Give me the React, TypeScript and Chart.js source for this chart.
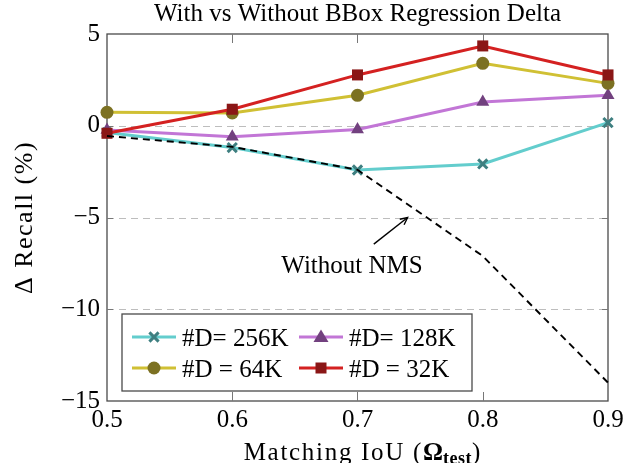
import React, { useEffect, useRef } from 'react';
import { Chart, registerables } from 'chart.js';

Chart.register(...registerables);

const iou = [0.5, 0.6, 0.7, 0.8, 0.9];
const d256 = [-0.37, -1.19, -2.41, -2.08, 0.17];
const d128 = [-0.23, -0.6, -0.2, 1.29, 1.66];
const d64 = [0.73, 0.7, 1.66, 3.4, 2.31];
const d32 = [-0.41, 0.9, 2.77, 4.35, 2.77];
const withoutNms = [-0.56, -1.15, -2.4, -7.1, -14.0];
const yGridValues = [0, -5, -10];
const xInnerTicks = [0.6, 0.7, 0.8];

const legendLabels = ['#D= 256K', '#D= 128K', '#D = 64K', '#D = 32K'];
const titleText = 'With vs Without BBox Regression Delta';
const yTitle = 'Δ Recall (%)';
const annotationText = 'Without NMS';

const SERIF = '"Liberation Serif", "Times New Roman", serif';
const FS = 25;

const C256 = { line: '#63cdcd', mark: '#3e7f80' };
const C128 = { line: '#c276d6', mark: '#72417f' };
const C64 = { line: '#d0c034', mark: '#7c7122' };
const C32 = { line: '#d42121', mark: '#8a1616' };

const pts = (ys: number[]) => iou.map((x, i) => ({ x, y: ys[i] }));

function drawMarker(ctx: CanvasRenderingContext2D, style: string, x: number, y: number, color: string) {
  ctx.save();
  ctx.fillStyle = color;
  ctx.strokeStyle = color;
  if (style === 'cross') {
    ctx.lineWidth = 3;
    const s = 4.6;
    ctx.beginPath();
    ctx.moveTo(x - s, y - s); ctx.lineTo(x + s, y + s);
    ctx.moveTo(x + s, y - s); ctx.lineTo(x - s, y + s);
    ctx.stroke();
  } else if (style === 'circle') {
    ctx.beginPath();
    ctx.arc(x, y, 6.5, 0, Math.PI * 2);
    ctx.fill();
  } else if (style === 'triangle') {
    ctx.beginPath();
    ctx.moveTo(x, y - 7.5);
    ctx.lineTo(x + 7.5, y + 5);
    ctx.lineTo(x - 7.5, y + 5);
    ctx.closePath();
    ctx.fill();
  } else {
    ctx.fillRect(x - 5.5, y - 5.5, 11, 11);
  }
  ctx.restore();
}

const decorPlugin = {
  id: 'decor',
  beforeDatasetsDraw(chart: any) {
    const { ctx, chartArea: a, scales } = chart;
    const y = scales.y;
    const x = scales.x;
    ctx.save();
    ctx.strokeStyle = '#bdbdbd';
    ctx.lineWidth = 1.2;
    ctx.setLineDash([7, 5]);
    yGridValues.forEach((v) => {
      const py = Math.round(y.getPixelForValue(v)) + 0.5;
      ctx.beginPath();
      ctx.moveTo(a.left, py);
      ctx.lineTo(a.right, py);
      ctx.stroke();
    });
    ctx.setLineDash([]);
    ctx.strokeStyle = '#4a4a4a';
    ctx.lineWidth = 1.3;
    ctx.strokeRect(a.left, a.top, a.right - a.left, a.bottom - a.top);
    ctx.strokeStyle = '#777';
    ctx.lineWidth = 1;
    xInnerTicks.forEach((v) => {
      const px = Math.round(x.getPixelForValue(v)) + 0.5;
      ctx.beginPath();
      ctx.moveTo(px, a.bottom); ctx.lineTo(px, a.bottom - 9);
      ctx.moveTo(px, a.top); ctx.lineTo(px, a.top + 9);
      ctx.stroke();
    });
    yGridValues.forEach((v) => {
      const py = Math.round(y.getPixelForValue(v)) + 0.5;
      ctx.beginPath();
      ctx.moveTo(a.left, py); ctx.lineTo(a.left + 6, py);
      ctx.moveTo(a.right, py); ctx.lineTo(a.right - 6, py);
      ctx.stroke();
    });
    ctx.restore();
  },
  afterDraw(chart: any) {
    const { ctx, chartArea: a, scales } = chart;
    const x = scales.x;
    const y = scales.y;
    ctx.save();
    ctx.fillStyle = '#000';
    // title
    ctx.font = `${FS}px ${SERIF}`;
    ctx.textAlign = 'center';
    ctx.textBaseline = 'alphabetic';
    ctx.fillText(titleText, (a.left + a.right) / 2, 21);

    // y title
    ctx.save();
    ctx.translate(32, (a.top + a.bottom) / 2);
    ctx.rotate(-Math.PI / 2);
    ctx.font = `26px ${SERIF}`;
    (ctx as any).letterSpacing = '1.5px';
    ctx.textAlign = 'center';
    ctx.fillText(yTitle, 0, 0);
    ctx.restore();

    // x title with bold Omega subscript
    const parts = [
      { t: 'Matching IoU (', f: `${FS}px ${SERIF}`, dy: 0, ls: '1.7px' },
      { t: 'Ω', f: `bold ${FS}px ${SERIF}`, dy: 0, ls: '0px' },
      { t: 'test', f: `bold 18px ${SERIF}`, dy: 4, ls: '0.5px' },
      { t: ')', f: `${FS}px ${SERIF}`, dy: 0, ls: '0px' },
    ];
    let total = 0;
    parts.forEach((p) => {
      ctx.font = p.f;
      (ctx as any).letterSpacing = p.ls;
      total += ctx.measureText(p.t).width;
    });
    let cx = 362 - total / 2;
    ctx.textAlign = 'left';
    parts.forEach((p) => {
      ctx.font = p.f;
      (ctx as any).letterSpacing = p.ls;
      ctx.fillText(p.t, cx, 460 + p.dy);
      cx += ctx.measureText(p.t).width;
    });
    (ctx as any).letterSpacing = '0px';

    // annotation
    const tipX = x.getPixelForValue(0.74);
    const tipY = y.getPixelForValue(-5.0);
    const tailX = x.getPixelForValue(0.713);
    const tailY = y.getPixelForValue(-6.45);
    ctx.strokeStyle = '#000';
    ctx.lineWidth = 1.4;
    ctx.beginPath();
    ctx.moveTo(tailX, tailY);
    ctx.lineTo(tipX, tipY);
    ctx.stroke();
    const ang = Math.atan2(tipY - tailY, tipX - tailX);
    const hl = 8;
    ctx.beginPath();
    ctx.moveTo(tipX - hl * Math.cos(ang - 0.45), tipY - hl * Math.sin(ang - 0.45));
    ctx.lineTo(tipX, tipY);
    ctx.lineTo(tipX - hl * Math.cos(ang + 0.45), tipY - hl * Math.sin(ang + 0.45));
    ctx.stroke();
    ctx.font = `${FS}px ${SERIF}`;
    ctx.textAlign = 'center';
    ctx.textBaseline = 'alphabetic';
    ctx.fillText(annotationText, x.getPixelForValue(0.6956), y.getPixelForValue(-8.0));

    // legend
    const lx = a.left + 15;
    const ly = 314;
    const lw = 350;
    const lh = 77;
    ctx.fillStyle = '#fff';
    ctx.fillRect(lx, ly, lw, lh);
    ctx.strokeStyle = '#4a4a4a';
    ctx.lineWidth = 1.3;
    ctx.strokeRect(lx, ly, lw, lh);
    const entries = [
      { c: C256, s: 'cross', col: 0, row: 0 },
      { c: C128, s: 'triangle', col: 1, row: 0 },
      { c: C64, s: 'circle', col: 0, row: 1 },
      { c: C32, s: 'rect', col: 1, row: 1 },
    ];
    entries.forEach((e, i) => {
      const x0 = lx + 10 + e.col * 167;
      const yy = ly + 23 + e.row * 31;
      ctx.strokeStyle = e.c.line;
      ctx.lineWidth = 3;
      ctx.beginPath();
      ctx.moveTo(x0, yy);
      ctx.lineTo(x0 + 44, yy);
      ctx.stroke();
      drawMarker(ctx, e.s, x0 + 22, yy, e.c.mark);
      ctx.fillStyle = '#000';
      ctx.font = `${FS}px ${SERIF}`;
      ctx.textAlign = 'left';
      ctx.textBaseline = 'alphabetic';
      ctx.fillText(legendLabels[i], x0 + 50, yy + 8.5);
    });
    ctx.restore();
  },
};

export default function App() {
  const ref = useRef<HTMLCanvasElement | null>(null);
  useEffect(() => {
    document.body.style.margin = '0';
    const canvas = ref.current!;
    const chart = new Chart(canvas, {
      type: 'line',
      data: {
        datasets: [
          {
            label: 'Without NMS', data: pts(withoutNms), borderColor: '#000', borderWidth: 1.9,
            borderDash: [7, 5], pointRadius: 0, order: 1, clip: false as any,
          },
          {
            label: legendLabels[3], data: pts(d32), borderColor: C32.line, borderWidth: 3,
            pointStyle: 'rect', pointRadius: 7.8, pointBackgroundColor: C32.mark, pointBorderColor: C32.mark,
            pointBorderWidth: 0, order: 2, clip: false as any,
          },
          {
            label: legendLabels[2], data: pts(d64), borderColor: C64.line, borderWidth: 3,
            pointStyle: 'circle', pointRadius: 6.5, pointBackgroundColor: C64.mark, pointBorderColor: C64.mark,
            pointBorderWidth: 0, order: 3, clip: false as any,
          },
          {
            label: legendLabels[1], data: pts(d128), borderColor: C128.line, borderWidth: 3,
            pointStyle: 'triangle', pointRadius: 7.5, pointBackgroundColor: C128.mark, pointBorderColor: C128.mark,
            pointBorderWidth: 0, order: 4, clip: false as any,
          },
          {
            label: legendLabels[0], data: pts(d256), borderColor: C256.line, borderWidth: 3,
            pointStyle: 'crossRot', pointRadius: 6.5, pointBackgroundColor: C256.mark, pointBorderColor: C256.mark,
            pointBorderWidth: 3, order: 5, clip: false as any,
          },
        ],
      },
      options: {
        animation: false,
        responsive: false,
        devicePixelRatio: window.devicePixelRatio || 1,
        layout: { padding: { top: 34, right: 34, left: 0, bottom: 0 } },
        plugins: {
          legend: { display: false },
          title: { display: false },
          tooltip: { enabled: false },
        },
        elements: { line: { tension: 0 } },
        scales: {
          x: {
            type: 'linear',
            min: 0.5,
            max: 0.9,
            afterFit: (s: any) => { s.height = 62; },
            ticks: {
              stepSize: 0.1,
              autoSkip: false,
              maxRotation: 0,
              padding: 4,
              color: '#000',
              font: { family: SERIF, size: FS },
              callback: (v: any) => Number(v).toFixed(1),
            },
            grid: { display: false, drawTicks: false },
            border: { display: false },
          },
          y: {
            min: -15,
            max: 5,
            afterFit: (s: any) => { s.width = 107; },
            ticks: {
              stepSize: 5,
              padding: 7,
              color: '#000',
              font: { family: SERIF, size: FS },
              callback: (v: any) => (Number(v) < 0 ? '\u2212' + Math.abs(Number(v)) : String(v)),
            },
            grid: { display: false, drawTicks: false },
            border: { display: false },
          },
        },
      },
      plugins: [decorPlugin],
    });
    return () => chart.destroy();
  }, []);
  return (
    <div style={{ position: 'absolute', left: 0, top: 0, width: 642, height: 463, background: '#fff' }}>
      <canvas ref={ref} width={642} height={463} style={{ width: 642, height: 463, display: 'block' }} />
    </div>
  );
}
